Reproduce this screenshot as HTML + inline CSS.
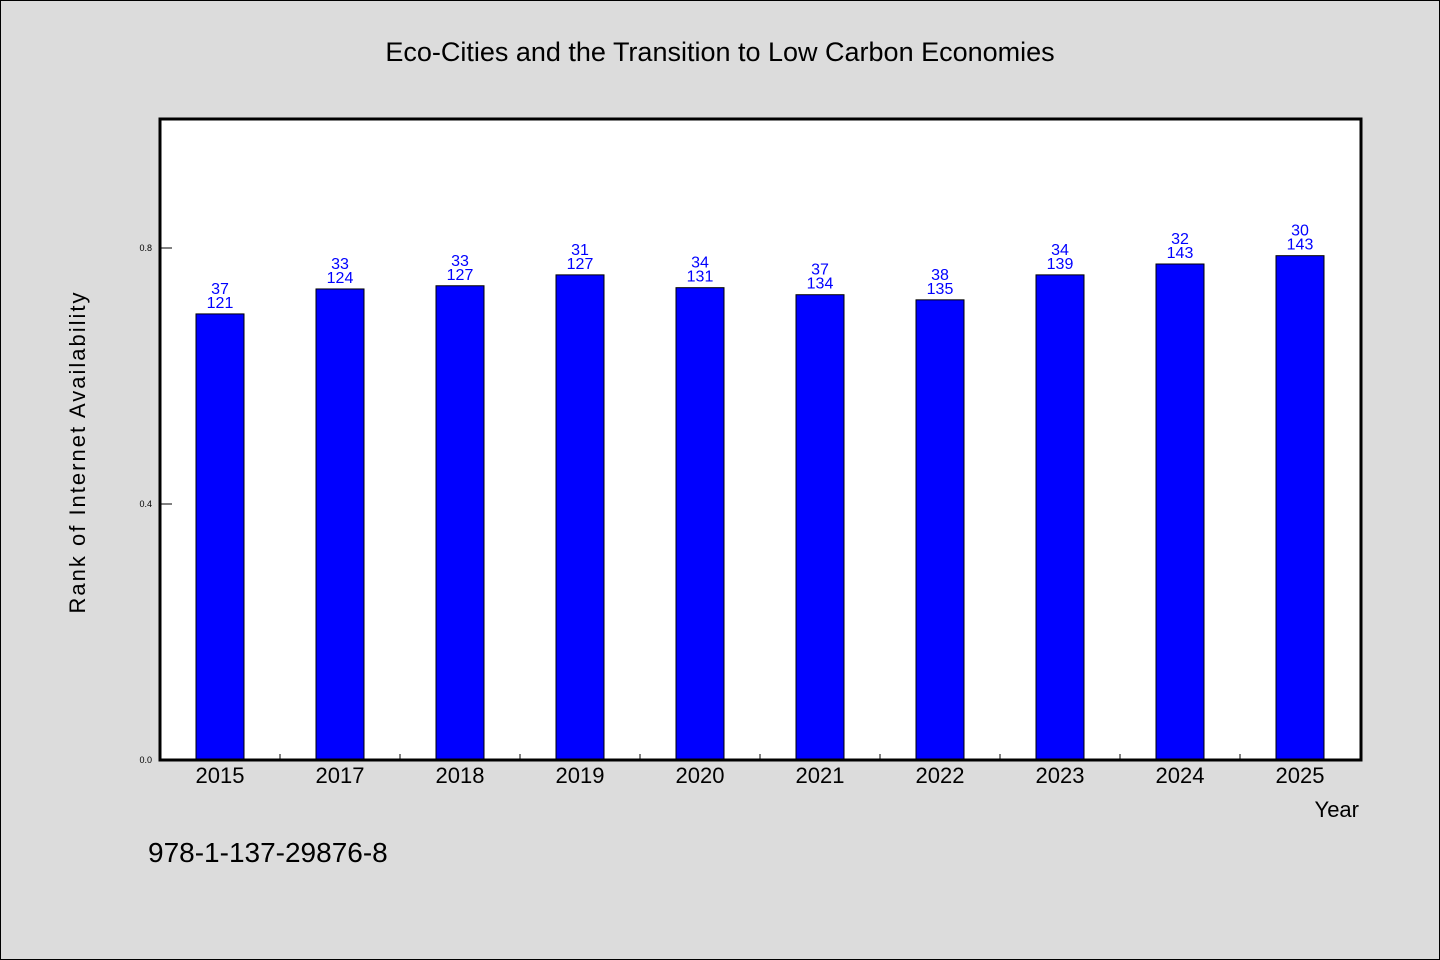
<!DOCTYPE html>
<html><head><meta charset="utf-8"><style>
html,body{margin:0;padding:0;background:#dcdcdc}
svg{display:block;font-family:"WenQuanYi Zen Hei","Liberation Sans",sans-serif}
</style></head><body>
<svg id="c" width="1440" height="960">
<rect x="0.5" y="0.5" width="1439" height="959" fill="#dcdcdc" stroke="#000"/>
<text x="720" y="61" text-anchor="middle" font-size="27">Eco-Cities and the Transition to Low Carbon Economies</text>
<rect x="160" y="119" width="1201" height="641" fill="#fff"/>
<g id="marks"></g>
<rect x="160" y="119" width="1201" height="641" fill="none" stroke="#000" stroke-width="3"/>
<text transform="translate(85,452) rotate(-90)" text-anchor="middle" font-size="22" letter-spacing="2">Rank of Internet Availability</text>
<text x="1359" y="817" text-anchor="end" font-size="22">Year</text>
<text x="148" y="862" font-size="28">978-1-137-29876-8</text>
</svg>
<script>
const categories=["2015","2017","2018","2019","2020","2021","2022","2023","2024","2025"];
const values=[0.697,0.736,0.741,0.758,0.738,0.727,0.719,0.758,0.775,0.788];
const topLabels=["37","33","33","31","34","37","38","34","32","30"];
const bottomLabels=["121","124","127","127","131","134","135","139","143","143"];
const yTicks=[0,0.4,0.8];
const yTickLabels=["0.0","0.4","0.8"];
const NS="http://www.w3.org/2000/svg";
const X0=160,X1=1360,Y0=760,Y1=120;
const slot=(X1-X0)/categories.length;
function y(v){return Y0-(v/1.0)*(Y0-Y1);}
function xc(i){return X0+slot*(i+0.5);}
const g=document.getElementById('marks');
function mk(t,a){const e=document.createElementNS(NS,t);for(const k in a)e.setAttribute(k,a[k]);g.appendChild(e);return e;}
yTicks.forEach((v,i)=>{
 const t=mk('line',{x1:X0,x2:X0+12,y1:y(v),y2:y(v),stroke:'#000','stroke-width':1});
 
 
 const l=mk('text',{x:X0-8,y:y(v)+3,'text-anchor':'end','font-size':9});
 l.textContent=yTickLabels[i];
 
 
});
for(let i=1;i<categories.length;i++){
 const t=mk('line',{x1:X0+slot*i,x2:X0+slot*i,y1:Y0,y2:Y0-6,stroke:'#000','stroke-width':1});
 
 
}
categories.forEach((c,i)=>{
 const bw=48,top=y(values[i]);
 const b=mk('rect',{x:xc(i)-bw/2,y:top,width:bw,height:Y0-top,fill:'#0000ff',stroke:'#000','stroke-width':1});
 
 
 const t1=mk('text',{x:xc(i),y:top-20,'text-anchor':'middle','font-size':16,fill:'#0000ff'});
 t1.textContent=topLabels[i];
 
 
 const t2=mk('text',{x:xc(i),y:top-6,'text-anchor':'middle','font-size':16,fill:'#0000ff'});
 t2.textContent=bottomLabels[i];
 
 
 const xl=mk('text',{x:xc(i),y:783,'text-anchor':'middle','font-size':22});
 xl.textContent=c;
 
 
});
</script>
</body></html>
